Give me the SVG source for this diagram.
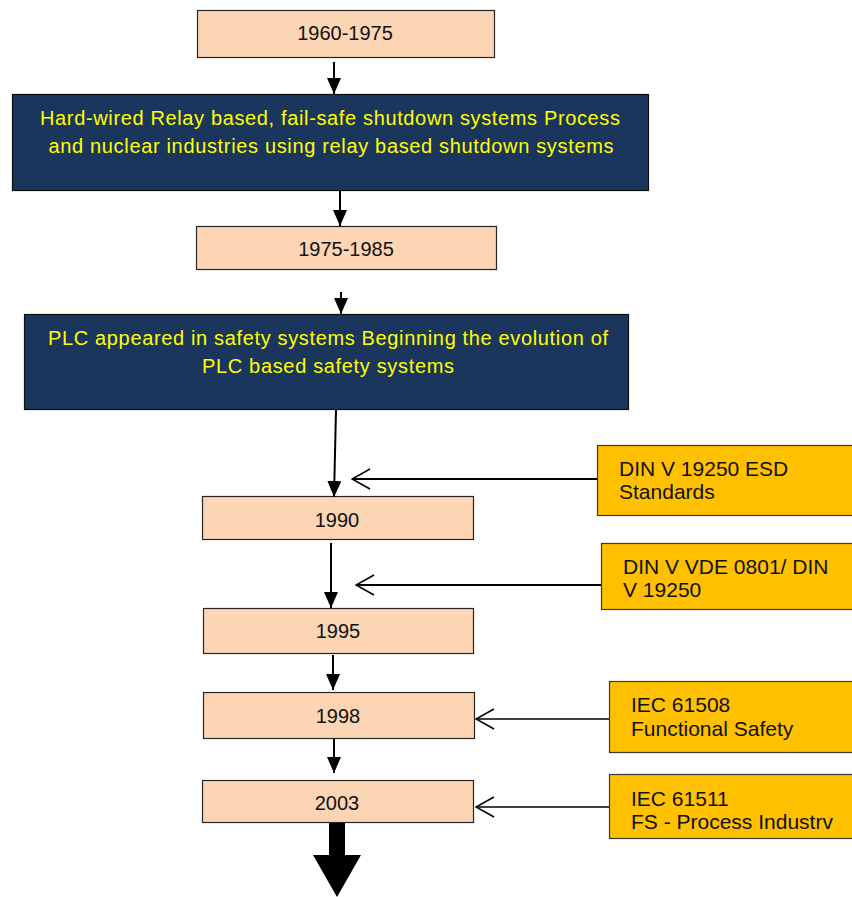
<svg xmlns="http://www.w3.org/2000/svg" width="852" height="897" viewBox="0 0 852 897">
<defs>
<style>
.peach{fill:#FCD5B4;stroke:#262626;stroke-width:1.2}
.navy{fill:#1B365D;stroke:#0d0d0d;stroke-width:1.2}
.orange{fill:#FFC000;stroke:#3a3a3a;stroke-width:1.2}
.yt{font-family:"Liberation Sans",Arial,sans-serif;font-size:20px;fill:#FFFF00;text-anchor:middle}
.pt{font-family:"Liberation Sans",Arial,sans-serif;font-size:20px;fill:#111;text-anchor:middle}
.ot{font-family:"Liberation Sans",Arial,sans-serif;font-size:21px;fill:#111}
.ln{stroke:#000;stroke-width:2;fill:none}
.ln1{stroke:#000;stroke-width:1.6;fill:none}
</style>
<marker id="fa" viewBox="0 0 16 14" refX="16" refY="7" markerWidth="16" markerHeight="14" markerUnits="userSpaceOnUse" orient="auto">
<path d="M0,0 L16,7 L0,14 Z" fill="#000"/>
</marker>
<marker id="oa" viewBox="0 0 20 22" refX="19" refY="11" markerWidth="20" markerHeight="22" markerUnits="userSpaceOnUse" orient="auto">
<path d="M1,1 L19,11 L1,21" fill="none" stroke="#000" stroke-width="1.6"/>
</marker>
</defs>
<rect width="852" height="897" fill="#fff"/>

<g id="n1960"><rect class="peach" x="197.5" y="10.5" width="297" height="47"/><text class="pt" x="345" y="40">1960-1975</text></g>
<g id="nRelay"><rect class="navy" x="12.5" y="94.5" width="636" height="96"/>
<text class="yt" x="330" y="125" textLength="580" lengthAdjust="spacing">Hard-wired Relay based, fail-safe shutdown systems Process</text>
<text class="yt" x="331" y="153" textLength="565" lengthAdjust="spacing">and nuclear industries using relay based shutdown systems</text></g>
<g id="n1975"><rect class="peach" x="196.5" y="226.5" width="300" height="43"/><text class="pt" x="346" y="256">1975-1985</text></g>
<g id="nPLC"><rect class="navy" x="24.5" y="314.5" width="604" height="95"/>
<text class="yt" x="328" y="345" textLength="560" lengthAdjust="spacing">PLC appeared in safety systems Beginning the evolution of</text>
<text class="yt" x="328" y="373" textLength="252" lengthAdjust="spacing">PLC based safety systems</text></g>
<g id="n1990"><rect class="peach" x="202.5" y="496.5" width="271" height="43"/><text class="pt" x="337" y="527">1990</text></g>
<g id="n1995"><rect class="peach" x="203.5" y="608.5" width="270" height="45"/><text class="pt" x="338" y="638">1995</text></g>
<g id="n1998"><rect class="peach" x="203.5" y="692.5" width="271" height="46"/><text class="pt" x="338" y="723">1998</text></g>
<g id="n2003"><rect class="peach" x="202.5" y="780.5" width="271" height="42"/><text class="pt" x="337" y="810">2003</text></g>

<g id="sDIN1"><rect class="orange" x="597.5" y="445.5" width="270" height="70"/><text class="ot" x="619" y="476">DIN V 19250 ESD</text><text class="ot" x="619" y="499">Standards</text></g>
<g id="sDIN2"><rect class="orange" x="601.5" y="543.5" width="270" height="66"/><text class="ot" x="623" y="574">DIN V VDE 0801/ DIN</text><text class="ot" x="623" y="597">V 19250</text></g>
<g id="sIEC1"><rect class="orange" x="609.5" y="681.5" width="260" height="71"/><text class="ot" x="631" y="712">IEC 61508</text><text class="ot" x="631" y="736">Functional Safety</text></g>
<g id="sIEC2"><rect class="orange" x="609.5" y="774.5" width="260" height="64"/><text class="ot" x="631" y="806">IEC 61511</text><text class="ot" x="631" y="829">FS - Process Industrv</text></g>

<g id="connectors">
<line class="ln" x1="334" y1="62" x2="334" y2="94" marker-end="url(#fa)"/>
<line class="ln" x1="340" y1="191" x2="340" y2="226" marker-end="url(#fa)"/>
<line class="ln" x1="341" y1="292" x2="341" y2="314" marker-end="url(#fa)"/>
<line class="ln" x1="336" y1="410" x2="334" y2="497" marker-end="url(#fa)"/>
<line class="ln" x1="331" y1="543" x2="331" y2="608" marker-end="url(#fa)"/>
<line class="ln" x1="333" y1="655" x2="333" y2="690" marker-end="url(#fa)"/>
<line class="ln" x1="334" y1="739" x2="334" y2="773" marker-end="url(#fa)"/>
<line class="ln" x1="597" y1="479" x2="352" y2="479" marker-end="url(#oa)"/>
<line class="ln" x1="601" y1="585" x2="356" y2="585" marker-end="url(#oa)"/>
<line class="ln1" x1="609" y1="719" x2="476" y2="719" marker-end="url(#oa)"/>
<line class="ln1" x1="609" y1="807" x2="476" y2="807" marker-end="url(#oa)"/>
<path d="M329,823 L345,823 L345,855 L361,855 L337,897 L313,855 L329,855 Z" fill="#000"/>
</g>
</svg>
